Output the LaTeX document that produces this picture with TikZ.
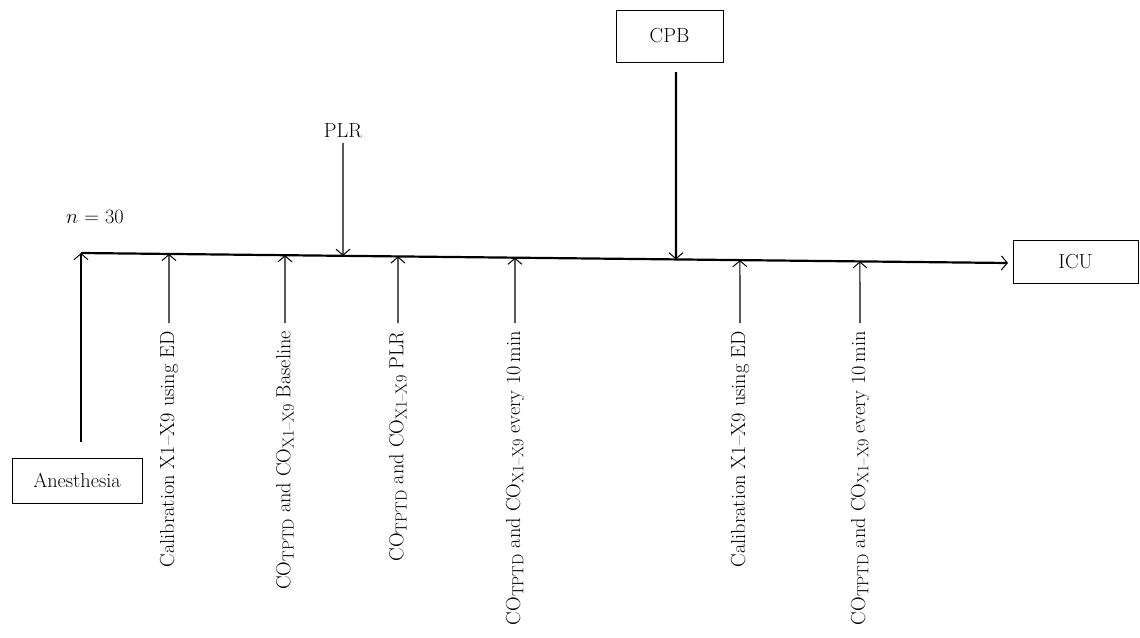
\documentclass[tikz,border=0pt]{standalone}
\usetikzlibrary{arrows.meta,calc}
\newcommand{\mysub}[1]{\raisebox{-3.4pt}{\fontsize{16}{19}\selectfont #1}}
\begin{document}
\begin{tikzpicture}[x=1pt,y=-1pt,
  every node/.style={font=\fontsize{20.3}{24}\selectfont},
  box/.style={draw,line width=0.9pt,minimum width=#1,inner sep=0pt},
  mainline/.style={line width=2.2pt},
  barb/.style={-{Straight Barb[length=6pt,width=14pt,line width=1pt]}},
  tick/.style={line width=1.1pt,barb},
  lbl/.style={rotate=90,anchor=east,inner sep=0pt}]
\useasboundingbox (0,0) rectangle (1140,637);

% boxes
\node[box=130pt,minimum height=45pt] (anes) at (77,480.5) {Anesthesia};
\node[box=107pt,minimum height=52pt] (cpb) at (669.5,36) {CPB};
\node[box=125pt,minimum height=43pt] (icu) at (1075.5,261.5) {ICU};

% main line
\coordinate (A) at (81,253);
\coordinate (B) at (1008,263);
\draw[mainline,barb] (A) -- (B);

% anesthesia arrow
\coordinate (anesup) at (81,442);
\draw[mainline,barb] (anesup) -- (A);

\node (n) at (95,217) {$n$ = 30};

% PLR
\node (plr) at (343,131) {PLR};
\coordinate (plrs) at (343,143);
\coordinate (plru) at (343,600);
\draw[tick] (plrs) -- (intersection of A--B and plrs--plru);

% CPB
\coordinate (cpbs) at (676,72);
\coordinate (cpbu) at (676,600);
\draw[mainline,barb] (cpbs) -- (intersection of A--B and cpbs--cpbu);

% ticks and labels
\foreach \x/\name in {169/t1,285/t2,398/t3,515/t4,740/t5,860/t6}{
  \coordinate (\name) at (\x,323);
  \coordinate (\name u) at (\x,0);
  \draw[tick] (\name) -- (intersection of A--B and \name--\name u);
}
\node[lbl] (l1) at (169,331) {Calibration X1--X9 using ED};
\node[lbl] (l2) at (285,331) {CO\mysub{TPTD} and CO\mysub{X1--X9} Baseline};
\node[lbl] (l3) at (398,331) {CO\mysub{TPTD} and CO\mysub{X1--X9} PLR};
\node[lbl] (l4) at (515,331) {CO\mysub{TPTD} and CO\mysub{X1--X9} every 10\,min};
\node[lbl] (l5) at (740,331) {Calibration X1--X9 using ED};
\node[lbl] (l6) at (860,331) {CO\mysub{TPTD} and CO\mysub{X1--X9} every 10\,min};
\end{tikzpicture}
\end{document}
